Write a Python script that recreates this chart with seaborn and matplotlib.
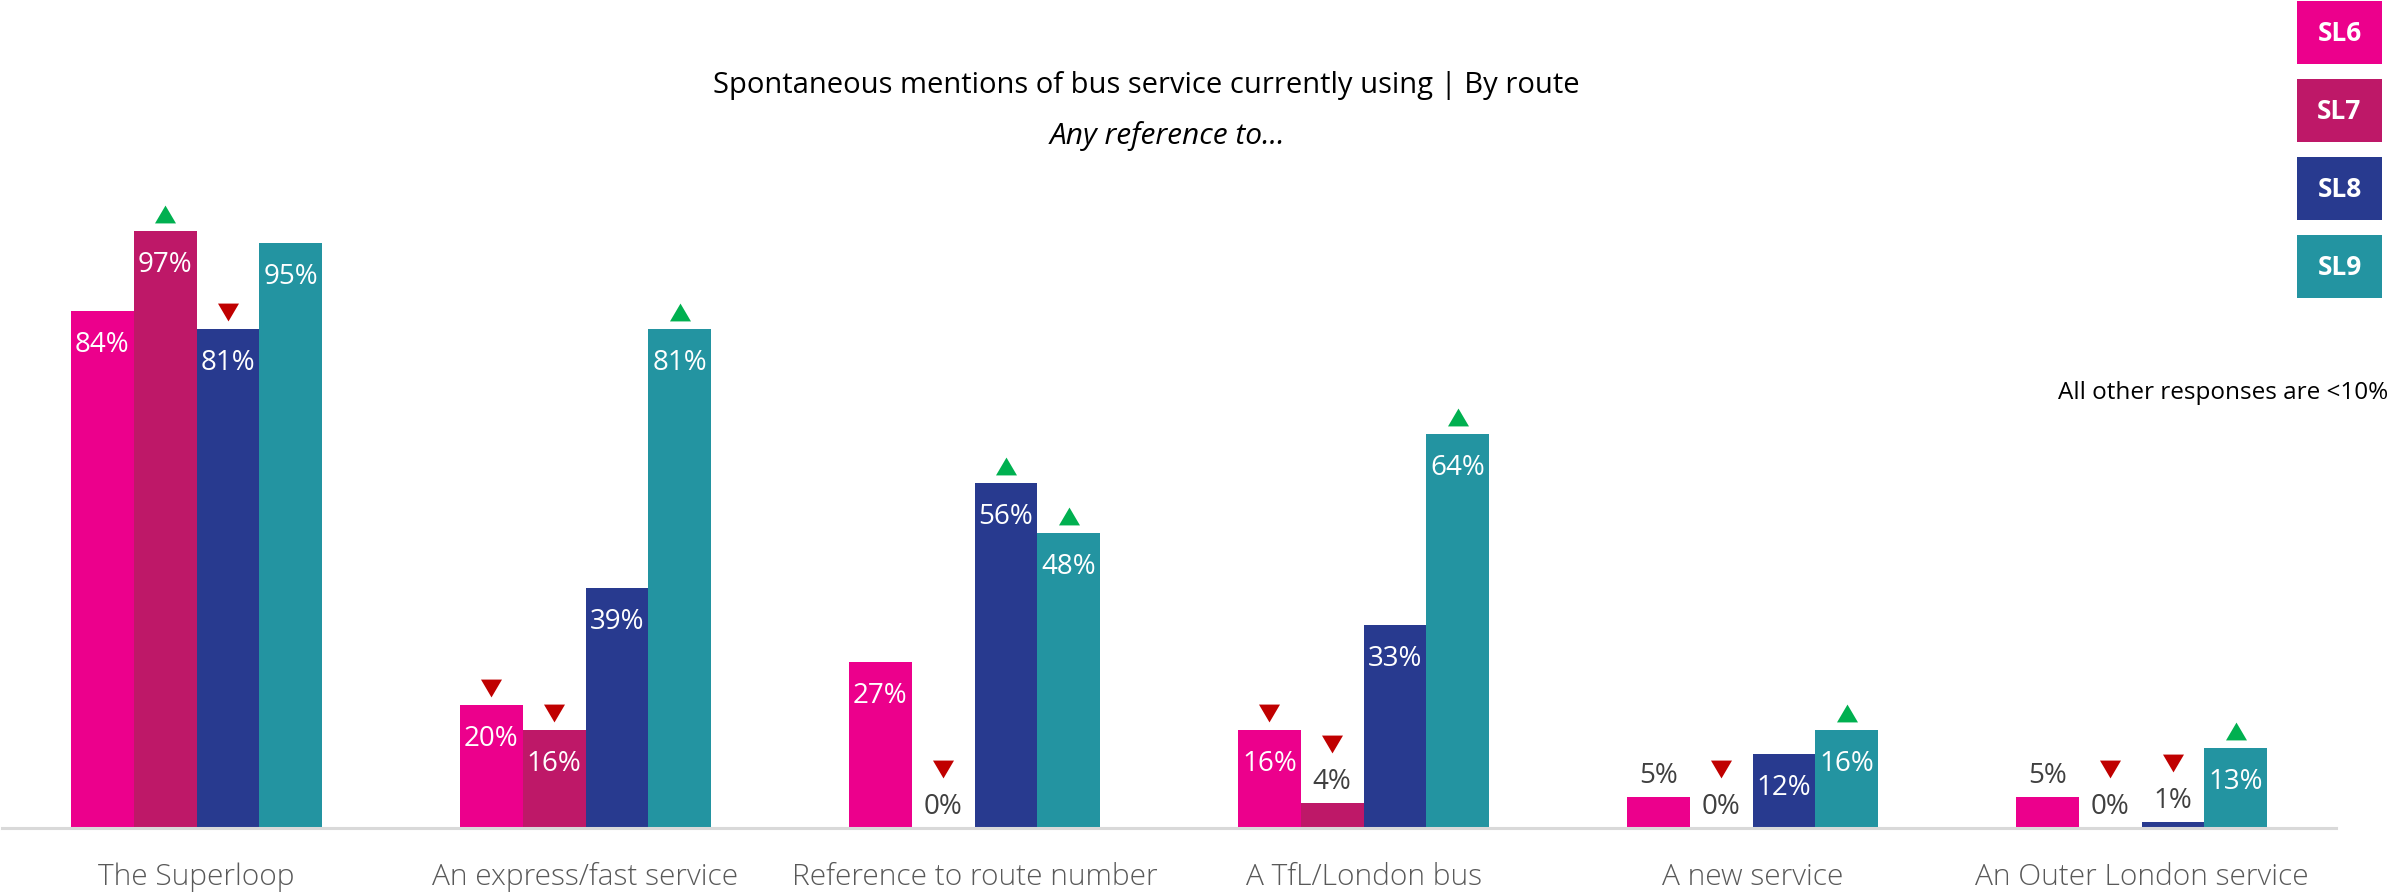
import matplotlib
matplotlib.use("Agg")
import matplotlib.pyplot as plt
import matplotlib.transforms as mtransforms
from matplotlib.patches import Rectangle
import numpy as np
import pandas as pd
import seaborn as sns

# ---- data -------------------------------------------------------------
categories = ["The Superloop", "An express/fast service", "Reference to route number",
              "A TfL/London bus", "A new service", "An Outer London service"]
routes = ["SL6", "SL7", "SL8", "SL9"]
sl6 = [84, 20, 27, 16, 5, 5]
sl7 = [97, 16, 0, 4, 0, 0]
sl8 = [81, 39, 56, 33, 12, 1]
sl9 = [95, 81, 48, 64, 16, 13]
# significance vs. other routes: "up" = significantly higher, "down" = lower
sig_sl6 = [None, "down", None, "down", None, None]
sig_sl7 = ["up", "down", "down", "down", "down", "down"]
sig_sl8 = ["down", None, "up", None, None, "down"]
sig_sl9 = [None, "up", "up", "up", "up", "up"]

route_colors = ["#EC008C", "#BE1868", "#283A8F", "#2394A1"]
title = "Spontaneous mentions of bus service currently using | By route"
subtitle = "Any reference to..."
note = "All other responses are <10%"

values = [sl6, sl7, sl8, sl9]
sigs = [sig_sl6, sig_sl7, sig_sl8, sig_sl9]

df = pd.DataFrame({
    "category": np.tile(categories, len(routes)),
    "route": np.repeat(routes, len(categories)),
    "value": np.concatenate(values),
})

# ---- figure -----------------------------------------------------------
sns.set_theme(style="white")
plt.rcParams["font.family"] = ["Open Sans", "DejaVu Sans"]

W, H, DPI = 2391, 895, 100
fig = plt.figure(figsize=(W / DPI, H / DPI), dpi=DPI)
fig.patch.set_facecolor("white")

# axes placed in pixel terms: baseline at y=829, 100% at y=213.5
ax_left, ax_right = 2, 2336
base_y, top_y = 829, 213.5
ax = fig.add_axes([ax_left / W, (H - base_y) / H,
                   (ax_right - ax_left) / W, (base_y - top_y) / H])

sns.barplot(data=df, x="category", y="value", hue="route", hue_order=routes,
            order=categories, palette=route_colors, saturation=1, width=0.645,
            linewidth=0, legend=False, ax=ax)

ax.set_xlim(-0.5, len(categories) - 0.5)
ax.set_ylim(0, 100)
ax.set_xlabel("")
ax.set_ylabel("")
ax.set_yticks([])
for s in ["top", "right", "left"]:
    ax.spines[s].set_visible(False)
ax.spines["bottom"].set_color("#D9D9D9")
ax.spines["bottom"].set_linewidth(2.2)
ax.tick_params(axis="x", length=0, pad=24, labelsize=21.5, labelcolor="#595959")
for lbl in ax.get_xticklabels():
    lbl.set_fontweight("light")
ax.set_facecolor("none")

px = 72 / DPI  # points per pixel
tri_up = [(-1, -0.85), (1, -0.85), (0, 0.85)]
tri_down = [(-1, 0.85), (1, 0.85), (0, -0.85)]


def offset(dy_px):
    return ax.transData + mtransforms.ScaledTranslation(0, dy_px / DPI, fig.dpi_scale_trans)


for h, (vals, sg) in enumerate(zip(values, sigs)):
    for i, bar in enumerate(ax.containers[h]):
        x = bar.get_x() + bar.get_width() / 2
        v = bar.get_height()
        inside = v >= 10
        if inside:
            ax.annotate(f"{vals[i]}%", (x, v), xytext=(0, -33 * px), textcoords="offset points",
                        ha="center", va="center", fontsize=20, color="white")
            tri_dy = 17
        else:
            ax.annotate(f"{vals[i]}%", (x, v), xytext=(0, 22 * px), textcoords="offset points",
                        ha="center", va="center", fontsize=20, color="#404040")
            tri_dy = 59
        if sg[i] is not None:
            up = sg[i] == "up"
            ax.plot([x], [v], linestyle="none",
                    marker=tri_up if up else tri_down,
                    markersize=21 * px, markeredgewidth=0,
                    color="#00B050" if up else "#C00000",
                    transform=offset(tri_dy), clip_on=False)

# titles
fig.text(1146 / W, 1 - 86 / H, title, ha="center", va="center", fontsize=21, color="black")
fig.text(1167 / W, 1 - 136 / H, subtitle, ha="center", va="center", fontsize=21.5,
         style="italic", color="black")

# route key boxes
box_x, box_w, box_h = 2297, 85, 63
for k, (r, c) in enumerate(zip(routes, route_colors)):
    y0 = 2 + k * 78
    fig.patches.append(Rectangle((box_x / W, 1 - (y0 + box_h) / H), box_w / W, box_h / H,
                                 transform=fig.transFigure, facecolor=c, edgecolor="none"))
    fig.text((box_x + box_w / 2) / W, 1 - (y0 + box_h / 2) / H, r, ha="center", va="center",
             fontsize=19, fontweight="bold", color="white")

fig.text(2388 / W, 1 - 393 / H, note, ha="right", va="center", fontsize=17.5, color="black")

fig.savefig("out.png", dpi=DPI, facecolor="white")
